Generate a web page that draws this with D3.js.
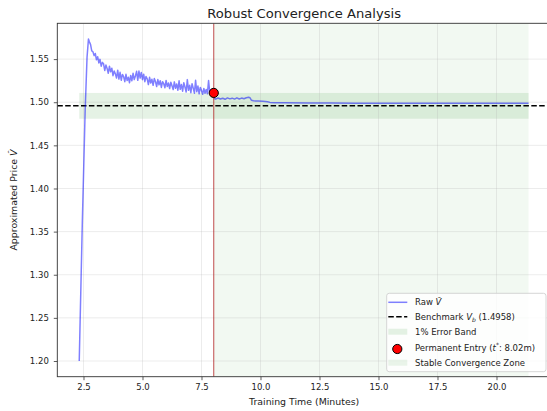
<!DOCTYPE html>
<html>
<head>
<meta charset="utf-8">
<script src="https://cdn.jsdelivr.net/npm/d3@7"></script>
<style>
  body { margin: 0; background: #fff; }
  svg { display: block; font-family: "DejaVu Sans", sans-serif; }
</style>
</head>
<body>
<svg id="chart" width="547" height="411"></svg>
<script>
// training time (minutes) and raw estimate V-hat
var times = [2.32, 2.45, 2.57, 2.65, 2.71,
  2.75, 2.80, 2.85, 2.90, 2.95, 3.00, 3.05, 3.10, 3.15, 3.20, 3.25, 3.30, 3.35, 3.40, 3.45,
  3.50, 3.55, 3.60, 3.65, 3.70, 3.75, 3.80, 3.85, 3.90, 3.95, 4.00, 4.05, 4.10, 4.15, 4.20,
  4.25, 4.30, 4.35, 4.40, 4.45, 4.50, 4.55, 4.60, 4.65, 4.70, 4.75, 4.80, 4.85, 4.90, 4.95,
  5.00, 5.05, 5.10, 5.15, 5.20, 5.25, 5.30, 5.35, 5.40, 5.45, 5.50, 5.55, 5.60, 5.65, 5.70,
  5.75, 5.80, 5.85, 5.90, 5.95, 6.00, 6.05, 6.10, 6.15, 6.20, 6.25, 6.30, 6.35, 6.40, 6.45,
  6.50, 6.55, 6.60, 6.65, 6.70, 6.75, 6.80, 6.85, 6.90, 6.95, 7.00, 7.05, 7.10, 7.15, 7.20,
  7.25, 7.30, 7.35, 7.40, 7.45, 7.50, 7.55, 7.60, 7.65, 7.70, 7.75, 7.80, 7.85, 7.90, 7.95,
  8.00, 8.02,
  8.05, 8.10, 8.20, 8.30, 8.40, 8.50, 8.60, 8.70, 8.80, 8.90, 9.00, 9.10, 9.20, 9.30, 9.40,
  9.50, 9.55, 9.62, 9.70, 9.90, 10.1, 10.3, 10.4, 10.6, 11.0, 12.0, 13.0, 14.0, 16.0, 18.0,
  20.0, 21.36];
var rawV = [1.2000, 1.3600, 1.4900, 1.5520, 1.5732,
  1.5702, 1.5668, 1.5595, 1.5585, 1.5540, 1.5565, 1.5492, 1.5528, 1.5455, 1.5497, 1.5418, 1.5462, 1.5445, 1.5368, 1.5431,
  1.5392, 1.5336, 1.5418, 1.5352, 1.5395, 1.5308, 1.5363, 1.5329, 1.5281, 1.5372, 1.5268, 1.5347, 1.5255, 1.5322, 1.5296,
  1.5238, 1.5324, 1.5252, 1.5290, 1.5226, 1.5311, 1.5249, 1.5336, 1.5262, 1.5305, 1.5358, 1.5254, 1.5362, 1.5280, 1.5345,
  1.5262, 1.5325, 1.5238, 1.5298, 1.5271, 1.5205, 1.5289, 1.5222, 1.5266, 1.5196, 1.5275, 1.5240, 1.5182, 1.5263, 1.5201,
  1.5249, 1.5172, 1.5238, 1.5215, 1.5168, 1.5252, 1.5181, 1.5224, 1.5159, 1.5231, 1.5190, 1.5147, 1.5236, 1.5162, 1.5211,
  1.5139, 1.5248, 1.5150, 1.5205, 1.5128, 1.5227, 1.5176, 1.5119, 1.5262, 1.5138, 1.5196, 1.5110, 1.5215, 1.5163, 1.5105,
  1.5254, 1.5121, 1.5188, 1.5098, 1.5172, 1.5136, 1.5092, 1.5160, 1.5104, 1.5148, 1.5098, 1.5252, 1.5115, 1.5143, 1.5101,
  1.5126, 1.5108,
  1.5043, 1.5036, 1.5049, 1.5037, 1.5046, 1.5034, 1.5050, 1.5039, 1.5047, 1.5036, 1.5051, 1.5038, 1.5048, 1.5040, 1.5052,
  1.5058, 1.5053, 1.5022, 1.5016, 1.5013, 1.5010, 1.5006, 1.4998, 1.4995, 1.4993, 1.4991, 1.4990, 1.4989, 1.4988, 1.4988,
  1.4987, 1.4987];

var benchmark = 1.4958;
var bandPct = 0.01;
var entryTime = 8.02, entryValue = 1.5108;
var xTicks = [2.5, 5.0, 7.5, 10.0, 12.5, 15.0, 17.5, 20.0];
var yTicks = [1.20, 1.25, 1.30, 1.35, 1.40, 1.45, 1.50, 1.55];

var svg = d3.select("#chart");
let padL = 57.3, padR = 551, padT = 23.3, padB = 376.7;
let xScale = d3.scaleLinear().domain([1.39, 22.31]).range([padL, padR]);
let yScale = d3.scaleLinear().domain([1.1818, 1.5915]).range([padB, padT]);

let data = times.map((t, i) => ({t: t, v: rawV[i]}));
let tStart = times[0], tEnd = times[times.length - 1];

svg.append("defs").append("clipPath").attr("id", "plotClip")
  .append("rect").attr("x", padL).attr("y", padT)
  .attr("width", padR - padL).attr("height", padB - padT);
let plot = svg.append("g").attr("clip-path", "url(#plotClip)");

// stable convergence zone
plot.append("rect")
  .attr("x", xScale(entryTime)).attr("y", padT)
  .attr("width", xScale(tEnd) - xScale(entryTime)).attr("height", padB - padT)
  .attr("fill", "green").attr("fill-opacity", 0.05);

// 1% error band
plot.append("rect")
  .attr("x", xScale(tStart)).attr("y", yScale(benchmark * (1 + bandPct)))
  .attr("width", xScale(tEnd) - xScale(tStart))
  .attr("height", yScale(benchmark * (1 - bandPct)) - yScale(benchmark * (1 + bandPct)))
  .attr("fill", "green").attr("fill-opacity", 0.1);

// grid
plot.append("g").selectAll("line").data(xTicks).join("line")
  .attr("x1", d => xScale(d)).attr("x2", d => xScale(d))
  .attr("y1", padT).attr("y2", padB)
  .attr("stroke", "#b0b0b0").attr("stroke-opacity", 0.3).attr("stroke-width", 0.8);
plot.append("g").selectAll("line").data(yTicks).join("line")
  .attr("x1", padL).attr("x2", padR)
  .attr("y1", d => yScale(d)).attr("y2", d => yScale(d))
  .attr("stroke", "#b0b0b0").attr("stroke-opacity", 0.3).attr("stroke-width", 0.8);

// benchmark line
plot.append("line")
  .attr("x1", padL).attr("x2", padR)
  .attr("y1", yScale(benchmark)).attr("y2", yScale(benchmark))
  .attr("stroke", "#000").attr("stroke-width", 1.5)
  .attr("stroke-dasharray", "5.5,2.4");

// raw estimate
plot.append("path").datum(data)
  .attr("fill", "none").attr("stroke", "blue").attr("stroke-opacity", 0.5)
  .attr("stroke-width", 1.5).attr("stroke-linejoin", "round")
  .attr("d", d3.line().x(d => xScale(d.t)).y(d => yScale(d.v)));

// entry time marker
plot.append("line")
  .attr("x1", xScale(entryTime)).attr("x2", xScale(entryTime))
  .attr("y1", padT).attr("y2", padB)
  .attr("stroke", "#b22222").attr("stroke-opacity", 0.8).attr("stroke-width", 1);
plot.append("circle")
  .attr("cx", xScale(entryTime)).attr("cy", yScale(entryValue)).attr("r", 4.6)
  .attr("fill", "red").attr("stroke", "#000").attr("stroke-width", 1);

// axes
let xAxis = svg.append("g").attr("transform", "translate(0," + padB + ")")
  .call(d3.axisBottom(xScale).tickValues(xTicks).tickFormat(d3.format(".1f"))
    .tickSize(3.5).tickPadding(3.5));
let yAxis = svg.append("g").attr("transform", "translate(" + padL + ",0)")
  .call(d3.axisLeft(yScale).tickValues(yTicks).tickFormat(d3.format(".2f"))
    .tickSize(3.5).tickPadding(5));
[xAxis, yAxis].forEach(ax => {
  ax.select(".domain").remove();
  ax.selectAll(".tick line").attr("stroke", "#333").attr("stroke-width", 0.8);
  ax.selectAll(".tick text").attr("font-size", 8.5).attr("fill", "#222")
    .attr("font-family", "DejaVu Sans");
});

// spines
svg.append("rect")
  .attr("x", padL).attr("y", padT).attr("width", padR - padL).attr("height", padB - padT)
  .attr("fill", "none").attr("stroke", "#333").attr("stroke-width", 0.9);

// titles and labels
svg.append("text").attr("x", (padL + padR) / 2).attr("y", 18)
  .attr("text-anchor", "middle").attr("font-size", 13.1).attr("fill", "#222")
  .text("Robust Convergence Analysis");
svg.append("text").attr("x", (padL + padR) / 2).attr("y", 404.5)
  .attr("text-anchor", "middle").attr("font-size", 9.4).attr("fill", "#222")
  .text("Training Time (Minutes)");
let ylab = svg.append("text")
  .attr("transform", "translate(17," + (padT + padB) / 2 + ") rotate(-90)")
  .attr("text-anchor", "middle").attr("font-size", 9.4).attr("fill", "#222");
ylab.append("tspan").text("Approximated Price ");
ylab.append("tspan").attr("font-style", "italic").text("V\u0302");

// legend
let lg = svg.append("g");
lg.append("rect").attr("x", 386.7).attr("y", 293.3).attr("width", 159.3).attr("height", 78.4)
  .attr("rx", 2.5).attr("fill", "#fff").attr("fill-opacity", 0.8)
  .attr("stroke", "#ccc").attr("stroke-width", 0.8);
let hx0 = 388.3, hx1 = 407.3, tx = 415, fs = 8.5;
let rows = [302.3, 316.7, 331.7, 348.2, 362.7];

lg.append("line").attr("x1", hx0).attr("x2", hx1).attr("y1", rows[0]).attr("y2", rows[0])
  .attr("stroke", "blue").attr("stroke-opacity", 0.5).attr("stroke-width", 1.5);
lg.append("line").attr("x1", hx0).attr("x2", hx1).attr("y1", rows[1]).attr("y2", rows[1])
  .attr("stroke", "#000").attr("stroke-width", 1.5).attr("stroke-dasharray", "5.5,2.4");
lg.append("rect").attr("x", hx0).attr("y", rows[2] - 3).attr("width", hx1 - hx0).attr("height", 6)
  .attr("fill", "green").attr("fill-opacity", 0.1);
lg.append("circle").attr("cx", (hx0 + hx1) / 2 - 0.5).attr("cy", rows[3] + 0.8).attr("r", 4.6)
  .attr("fill", "red").attr("stroke", "#000").attr("stroke-width", 1);
lg.append("rect").attr("x", hx0).attr("y", rows[4] - 3).attr("width", hx1 - hx0).attr("height", 6)
  .attr("fill", "green").attr("fill-opacity", 0.08);

let lt = (i) => lg.append("text").attr("x", tx).attr("y", rows[i] + 3)
  .attr("font-size", fs).attr("fill", "#222");
let t0 = lt(0); t0.append("tspan").text("Raw ");
t0.append("tspan").attr("font-style", "italic").text("V\u0302");
let t1 = lt(1); t1.append("tspan").text("Benchmark ");
t1.append("tspan").attr("font-style", "italic").text("V");
t1.append("tspan").attr("font-style", "italic").attr("font-size", 6).attr("dy", 2).text("b");
t1.append("tspan").attr("dy", -2).text(" (1.4958)");
lt(2).text("1% Error Band");
let t3 = lt(3); t3.append("tspan").text("Permanent Entry (");
t3.append("tspan").attr("font-style", "italic").text("t");
t3.append("tspan").attr("font-size", 6).attr("dy", -4).text("*");
t3.append("tspan").attr("dy", 4).text(": 8.02m)");
lt(4).text("Stable Convergence Zone");
</script>
</body>
</html>
